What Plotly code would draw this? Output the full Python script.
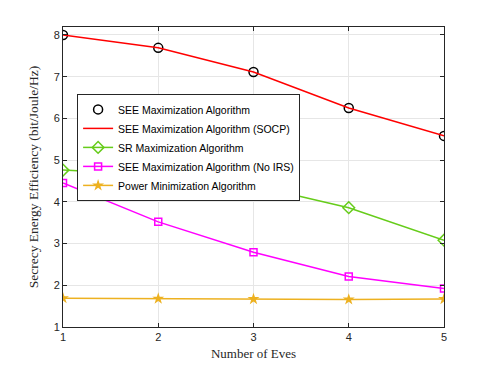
import plotly.graph_objects as go

eves = [1, 2, 3, 4, 5]
see_max = [8.0, 7.69, 7.11, 6.25, 5.58]
see_socp = [8.0, 7.69, 7.11, 6.25, 5.58]
sr_max = [4.76, 4.64, 4.39, 3.86, 3.08]
see_no_irs = [4.45, 3.52, 2.79, 2.21, 1.92]
power_min = [1.69, 1.68, 1.67, 1.66, 1.67]
x_ticks = [1, 2, 3, 4, 5]
y_ticks = [1, 2, 3, 4, 5, 6, 7, 8]

fig = go.Figure()
fig.add_trace(go.Scatter(x=eves, y=see_max, mode="markers", name="SEE Maximization Algorithm",
                         marker=dict(symbol="circle-open", size=9, color="black", line=dict(width=1.5))))
fig.add_trace(go.Scatter(x=eves, y=see_socp, mode="lines", name="SEE Maximization Algorithm (SOCP)",
                         line=dict(color="#FF0000", width=1.5)))
fig.add_trace(go.Scatter(x=eves, y=sr_max, mode="lines+markers", name="SR Maximization Algorithm",
                         line=dict(color="#66CC1A", width=1.5),
                         marker=dict(symbol="diamond-open", size=9, color="#66CC1A", line=dict(width=1.5))))
fig.add_trace(go.Scatter(x=eves, y=see_no_irs, mode="lines+markers", name="SEE Maximization Algorithm (No IRS)",
                         line=dict(color="#FF00FF", width=1.5),
                         marker=dict(symbol="square-open", size=7, color="#FF00FF", line=dict(width=1.5))))
fig.add_trace(go.Scatter(x=eves, y=power_min, mode="lines+markers", name="Power Minimization Algorithm",
                         line=dict(color="#EDB120", width=1.5),
                         marker=dict(symbol="star", size=9, color="#EDB120")))

axis_common = dict(showline=True, linecolor="#262626", linewidth=1, mirror="ticks",
                   ticks="inside", ticklen=4, tickcolor="#262626", automargin=False,
                   showgrid=True, gridcolor="#E6E6E6", gridwidth=1, zeroline=False,
                   tickfont=dict(family="Liberation Sans, Arial", size=11, color="#262626"))

fig.update_layout(
    width=491, height=368,
    margin=dict(l=63, r=47, t=27, b=41),
    paper_bgcolor="white", plot_bgcolor="white",
    xaxis=dict(range=[1, 5], tickvals=x_ticks,
               title=dict(text="Number of Eves", standoff=6,
                          font=dict(family="Liberation Serif, DejaVu Serif", size=13, color="#262626")),
               **axis_common),
    yaxis=dict(range=[1, 8.19], tickvals=y_ticks,
               title=dict(text="Secrecy Energy Efficiency (bit/Joule/Hz)", standoff=11,
                          font=dict(family="Liberation Serif, DejaVu Serif", size=13.5, color="#262626")),
               **axis_common),
    legend=dict(x=0.037, y=0.777, xanchor="left", yanchor="top",
                bgcolor="white", bordercolor="#262626", borderwidth=1,
                font=dict(family="Liberation Sans, Arial", size=10.5, color="black"),
                tracegroupgap=0, itemwidth=30),
    showlegend=True,
)

fig.write_html("out.html", config={"displayModeBar": False},
               post_script="document.body.style.margin='0';")
